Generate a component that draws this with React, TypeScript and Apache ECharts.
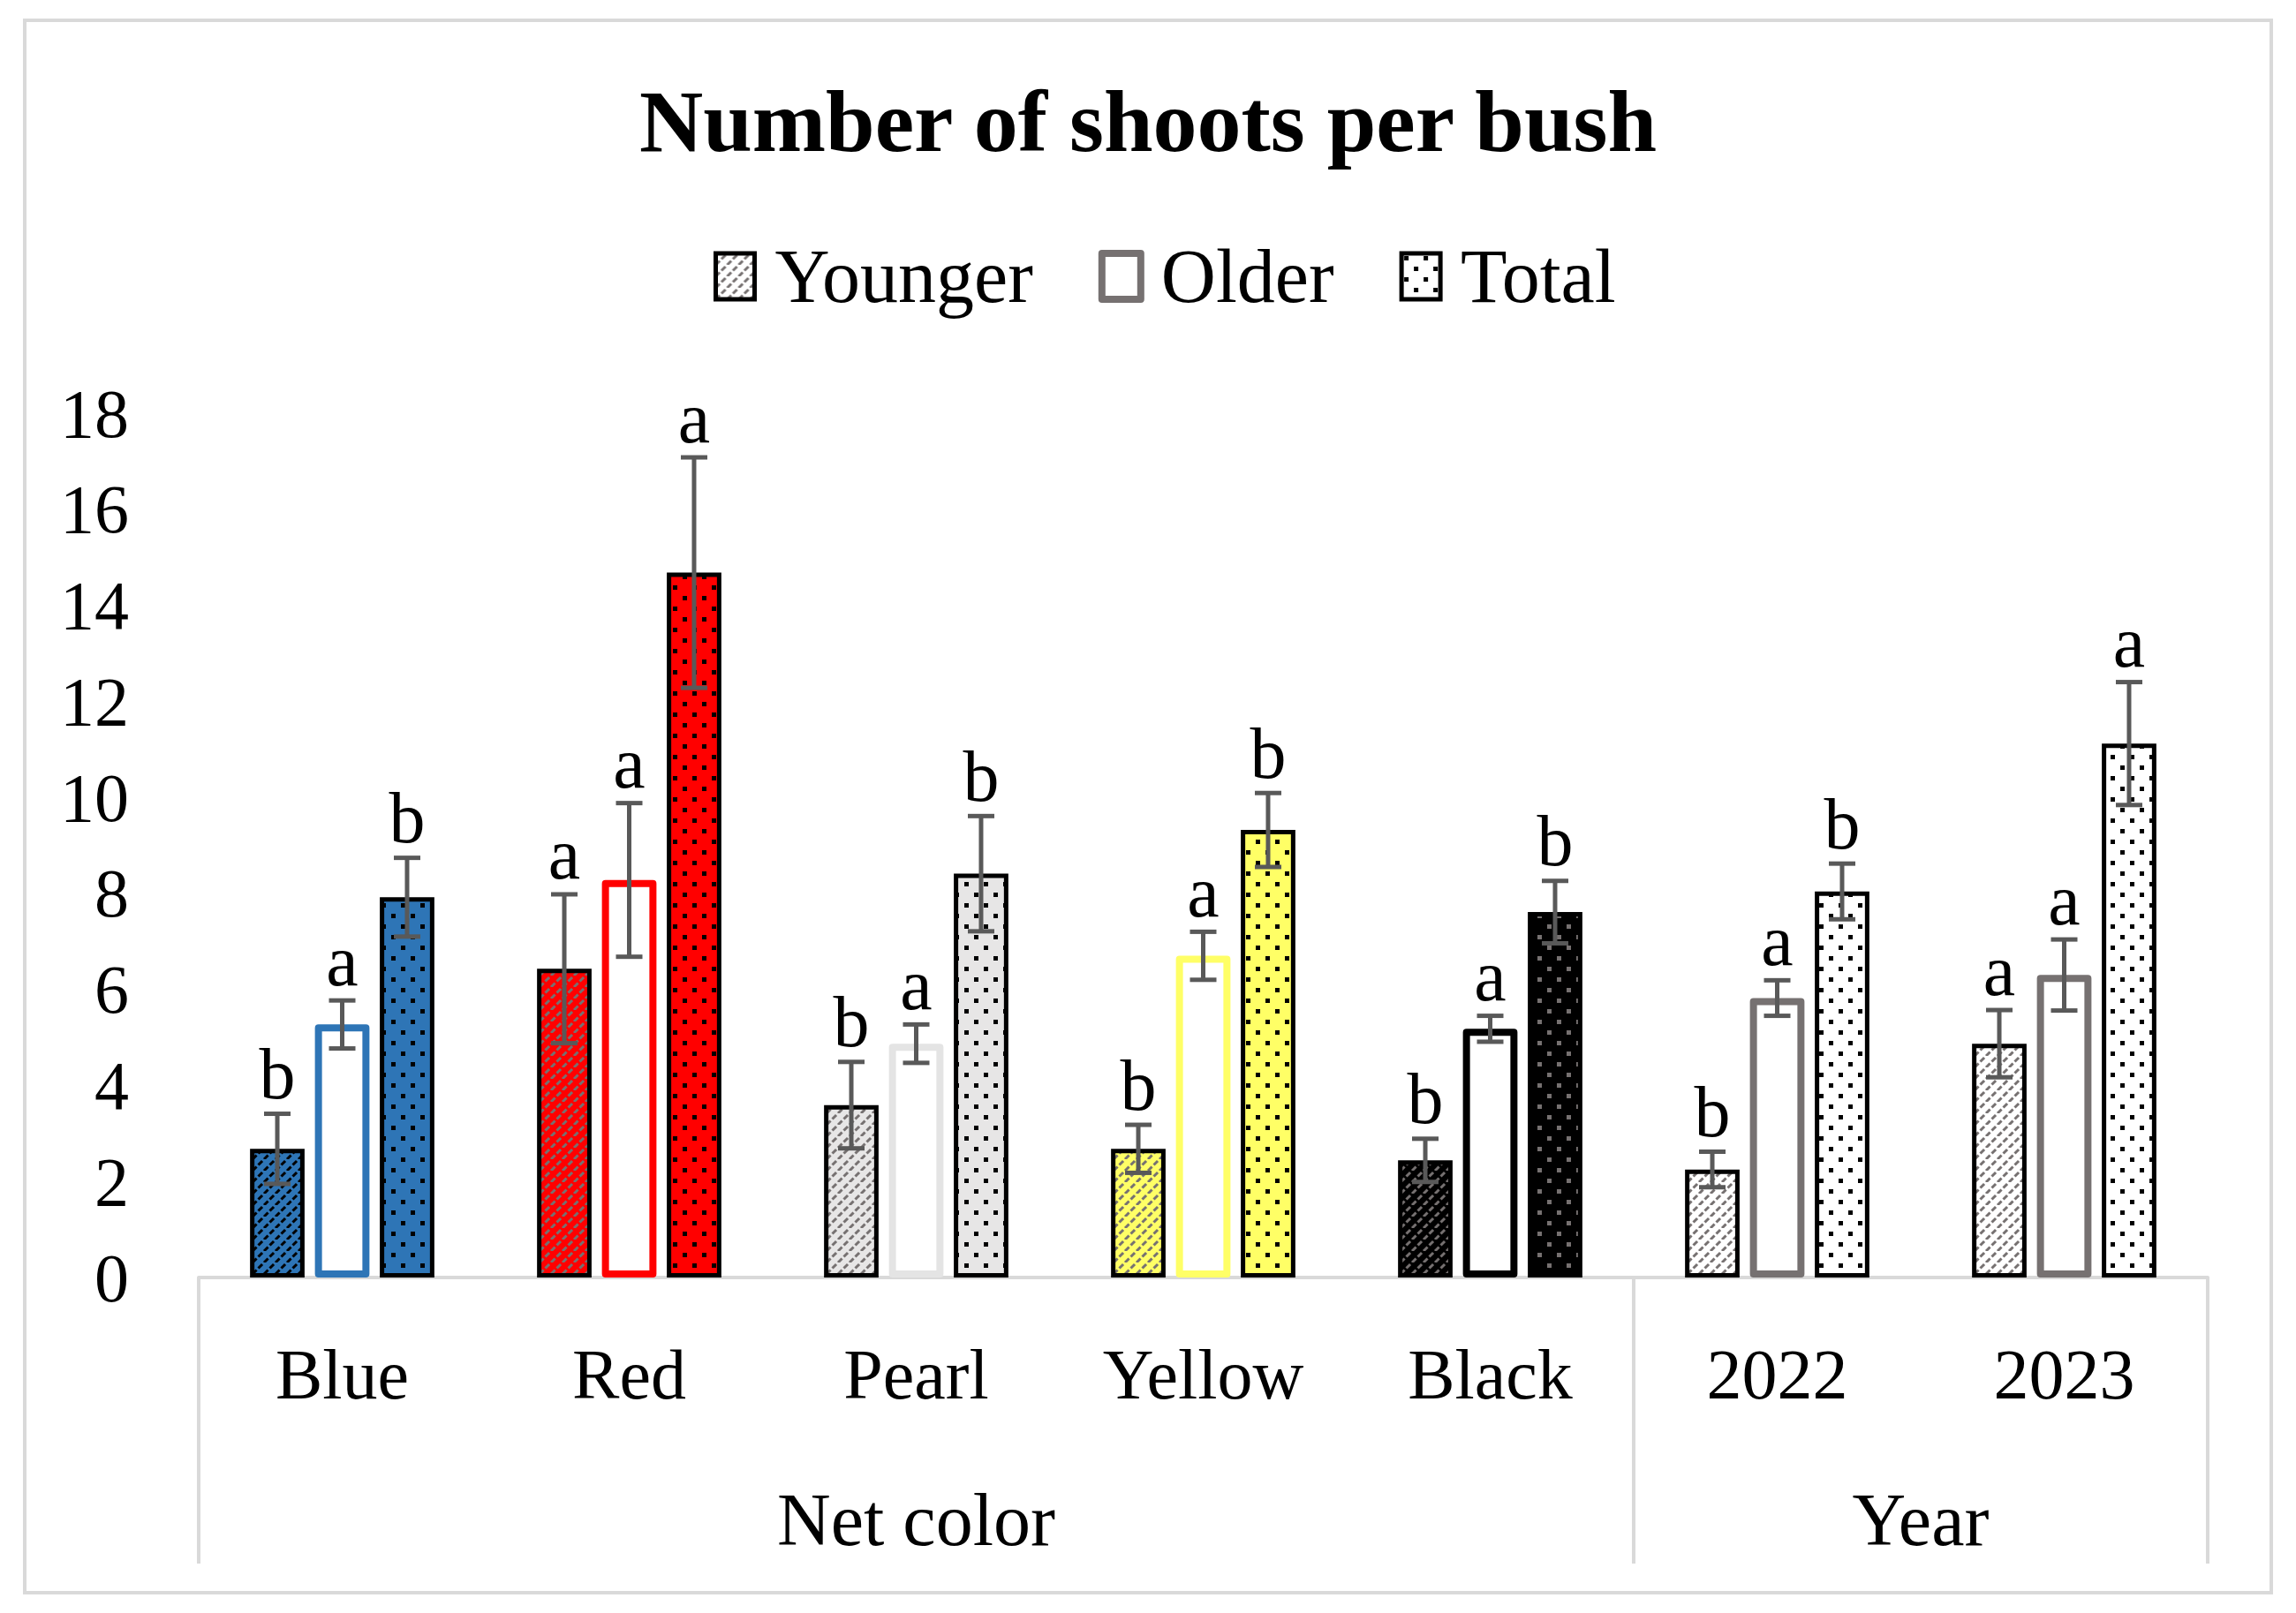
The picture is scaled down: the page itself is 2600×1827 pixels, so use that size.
import React, { useEffect, useRef } from 'react';
import * as echarts from 'echarts';

// ---------- data ----------
const categories = ['Blue', 'Red', 'Pearl', 'Yellow', 'Black', '2022', '2023'];
const groupNames = ['Net color', 'Year'];
const groupCenters = [2.5, 6];
const groupEdges = [0, 5, 7];
const seriesNames = ['Younger', 'Older', 'Total'];

const younger = [2.68, 6.43, 3.59, 2.68, 2.44, 2.25, 4.87];
const youngerErr = [0.73, 1.55, 0.9, 0.5, 0.45, 0.37, 0.7];
const youngerLetters = ['b', 'a', 'b', 'b', 'b', 'b', 'a'];

const older = [5.27, 8.28, 4.87, 6.7, 5.18, 5.82, 6.3];
const olderErr = [0.5, 1.6, 0.4, 0.5, 0.27, 0.37, 0.74];
const olderLetters = ['a', 'a', 'a', 'a', 'a', 'a', 'a'];

const total = [7.92, 14.68, 8.41, 9.32, 7.61, 8.04, 11.12];
const totalErr = [0.82, 2.4, 1.2, 0.77, 0.65, 0.58, 1.28];
const totalLetters = ['b', 'a', 'b', 'b', 'b', 'b', 'a'];

const yMin = 0;
const yMax = 18;
const yInterval = 2;

// ---------- styles ----------
const baseColors = ['#2e75b6', '#ff0000', '#e7e6e6', '#ffff66', '#000000', '#ffffff', '#ffffff'];
const hatchColors = ['#000000', '#767171', '#767171', '#767171', '#767171', '#767171', '#767171'];
const dotColors = ['#000000', '#000000', '#000000', '#000000', '#767171', '#000000', '#000000'];
const olderBorders = ['#2e75b6', '#ff0000', '#e4e4e4', '#ffff66', '#000000', '#767171', '#767171'];

const FONT = "'Liberation Serif', 'Times New Roman', serif";
const ERR_COLOR = '#595959';

function makeHatch(bg: string, fg: string) {
  const s = 13;
  const c = document.createElement('canvas');
  c.width = s;
  c.height = s;
  const ctx = c.getContext('2d')!;
  ctx.fillStyle = bg;
  ctx.fillRect(0, 0, s, s);
  ctx.strokeStyle = fg;
  ctx.lineWidth = 3;
  const period = (s * Math.SQRT2) / 2;
  ctx.setLineDash([period * 0.7, period * 0.3]);
  for (const k of [-s, 0, s]) {
    ctx.beginPath();
    ctx.moveTo(k, s);
    ctx.lineTo(k + s, 0);
    ctx.stroke();
  }
  return { image: c.toDataURL(), imageWidth: s, imageHeight: s, repeat: 'repeat' };
}

function makeDots(bg: string, fg: string) {
  const w = 22;
  const h = 24;
  const c = document.createElement('canvas');
  c.width = w;
  c.height = h;
  const ctx = c.getContext('2d')!;
  ctx.fillStyle = bg;
  ctx.fillRect(0, 0, w, h);
  ctx.fillStyle = fg;
  ctx.fillRect(3, 3, 5, 5);
  ctx.fillRect(14, 15, 5, 5);
  return { image: c.toDataURL(), imageWidth: w, imageHeight: h, repeat: 'repeat' };
}

const BAR_W = 0.19; // fraction of band
const BAR_GAP = 0.19; // fraction of bar width

function errorSeries(sIdx: number, vals: number[], errs: number[], letters: string[]) {
  return {
    type: 'custom',
    name: seriesNames[sIdx] + ' err',
    z: 5,
    clip: false,
    silent: true,
    data: vals.map((v, i) => [i, v, errs[i]]),
    renderItem: (params: any, api: any) => {
      const c = api.value(0);
      const v = api.value(1);
      const e = api.value(2);
      const band = api.size([1, 0])[0];
      const w = band * BAR_W;
      const x = api.coord([c, v])[0] + (sIdx - 1) * (w * (1 + BAR_GAP));
      const yTop = api.coord([c, v + e])[1];
      const yBot = api.coord([c, v - e])[1];
      const cap = 15;
      const ls = { stroke: ERR_COLOR, lineWidth: 5 };
      return {
        type: 'group',
        children: [
          { type: 'line', shape: { x1: x, y1: yTop, x2: x, y2: yBot }, style: ls },
          { type: 'line', shape: { x1: x - cap, y1: yTop, x2: x + cap, y2: yTop }, style: ls },
          { type: 'line', shape: { x1: x - cap, y1: yBot, x2: x + cap, y2: yBot }, style: ls },
          {
            type: 'text',
            style: {
              text: letters[params.dataIndex],
              x: x,
              y: yTop - 4,
              textAlign: 'center',
              textVerticalAlign: 'bottom',
              fontSize: 82,
              fontFamily: FONT,
              fill: '#000',
            },
          },
        ],
      };
    },
  };
}

export default function App() {
  const ref = useRef<HTMLDivElement>(null);

  useEffect(() => {
    document.body.style.margin = '0';
    if (!ref.current) return;
    const chart = echarts.init(ref.current, null, { renderer: 'svg' });

    const legendHatch = makeHatch('#ffffff', '#767171');
    const legendDots = makeDots('#ffffff', '#000000');

    const option: any = {
      animation: false,
      backgroundColor: '#ffffff',
      title: {
        text: 'Number of shoots per bush',
        left: 'center',
        top: 82,
        textStyle: { fontSize: 100, fontWeight: 'bold', fontFamily: FONT, color: '#000' },
      },
      legend: {
        top: 270,
        left: 808,
        icon: 'rect',
        itemWidth: 44,
        itemHeight: 52,
        itemGap: 74,
        padding: 0,
        selectedMode: false,
        textStyle: { fontSize: 86, fontFamily: FONT, color: '#000', padding: [0, 0, 0, 18] },
        data: [
          { name: 'Younger', itemStyle: { color: legendHatch, borderColor: '#000', borderWidth: 5 } },
          { name: 'Older', itemStyle: { color: '#fff', borderColor: '#767171', borderWidth: 8, borderJoin: 'round' } },
          { name: 'Total', itemStyle: { color: legendDots, borderColor: '#000', borderWidth: 5 } },
        ],
      },
      grid: {
        left: 225,
        right: 100,
        top: 468,
        bottom: 380,
        containLabel: false,
        outerBoundsMode: 'none',
      },
      xAxis: [
        {
          type: 'category',
          data: categories,
          axisLine: { show: true, lineStyle: { color: '#d9d9d9', width: 4 } },
          axisTick: { show: false },
          axisLabel: { fontSize: 80, fontFamily: FONT, color: '#000', margin: 70, interval: 0 },
          splitLine: { show: false },
        },
        {
          type: 'value',
          position: 'bottom',
          min: 0,
          max: 7,
          axisLine: { show: false },
          splitLine: { show: false },
          axisTick: {
            show: true,
            customValues: groupEdges,
            length: 324,
            lineStyle: { color: '#d9d9d9', width: 4 },
          },
          axisLabel: {
            show: true,
            customValues: groupCenters,
            formatter: (v: number) => groupNames[groupCenters.indexOf(v)] ?? '',
            fontSize: 84,
            fontFamily: FONT,
            color: '#000',
            margin: 232,
          },
        },
      ],
      yAxis: {
        type: 'value',
        min: yMin,
        max: yMax,
        interval: yInterval,
        axisLine: { show: false },
        axisTick: { show: false },
        splitLine: { show: false },
        axisLabel: { fontSize: 78, fontFamily: FONT, color: '#000', margin: 79 },
      },
      graphic: [
        {
          type: 'rect',
          shape: { x: 28, y: 23, width: 2544, height: 1781 },
          style: { fill: 'none', stroke: '#d9d9d9', lineWidth: 4 },
          silent: true,
          z: -1,
        },
      ],
      series: [
        {
          type: 'bar',
          name: 'Younger',
          barWidth: BAR_W * 100 + '%',
          barGap: BAR_GAP * 100 + '%',
          itemStyle: { color: legendHatch, borderColor: '#000', borderWidth: 5 },
          data: younger.map((v, i) => ({
            value: v,
            itemStyle: { color: makeHatch(baseColors[i], hatchColors[i]), borderColor: '#000', borderWidth: 5 },
          })),
        },
        {
          type: 'bar',
          name: 'Older',
          barWidth: BAR_W * 100 + '%',
          barGap: BAR_GAP * 100 + '%',
          itemStyle: { color: '#fff', borderColor: '#767171', borderWidth: 8, borderJoin: 'round' },
          data: older.map((v, i) => ({
            value: v,
            itemStyle: { color: '#ffffff', borderColor: olderBorders[i], borderWidth: 8, borderJoin: 'round' },
          })),
        },
        {
          type: 'bar',
          name: 'Total',
          barWidth: BAR_W * 100 + '%',
          barGap: BAR_GAP * 100 + '%',
          itemStyle: { color: legendDots, borderColor: '#000', borderWidth: 5 },
          data: total.map((v, i) => ({
            value: v,
            itemStyle: { color: makeDots(baseColors[i], dotColors[i]), borderColor: '#000', borderWidth: 5 },
          })),
        },
        errorSeries(0, younger, youngerErr, youngerLetters),
        errorSeries(1, older, olderErr, olderLetters),
        errorSeries(2, total, totalErr, totalLetters),
      ],
    };

    chart.setOption(option);
    return () => chart.dispose();
  }, []);

  return (
    <div
      ref={ref}
      style={{ position: 'absolute', left: 0, top: 0, width: 2600, height: 1827, background: '#fff' }}
    />
  );
}
